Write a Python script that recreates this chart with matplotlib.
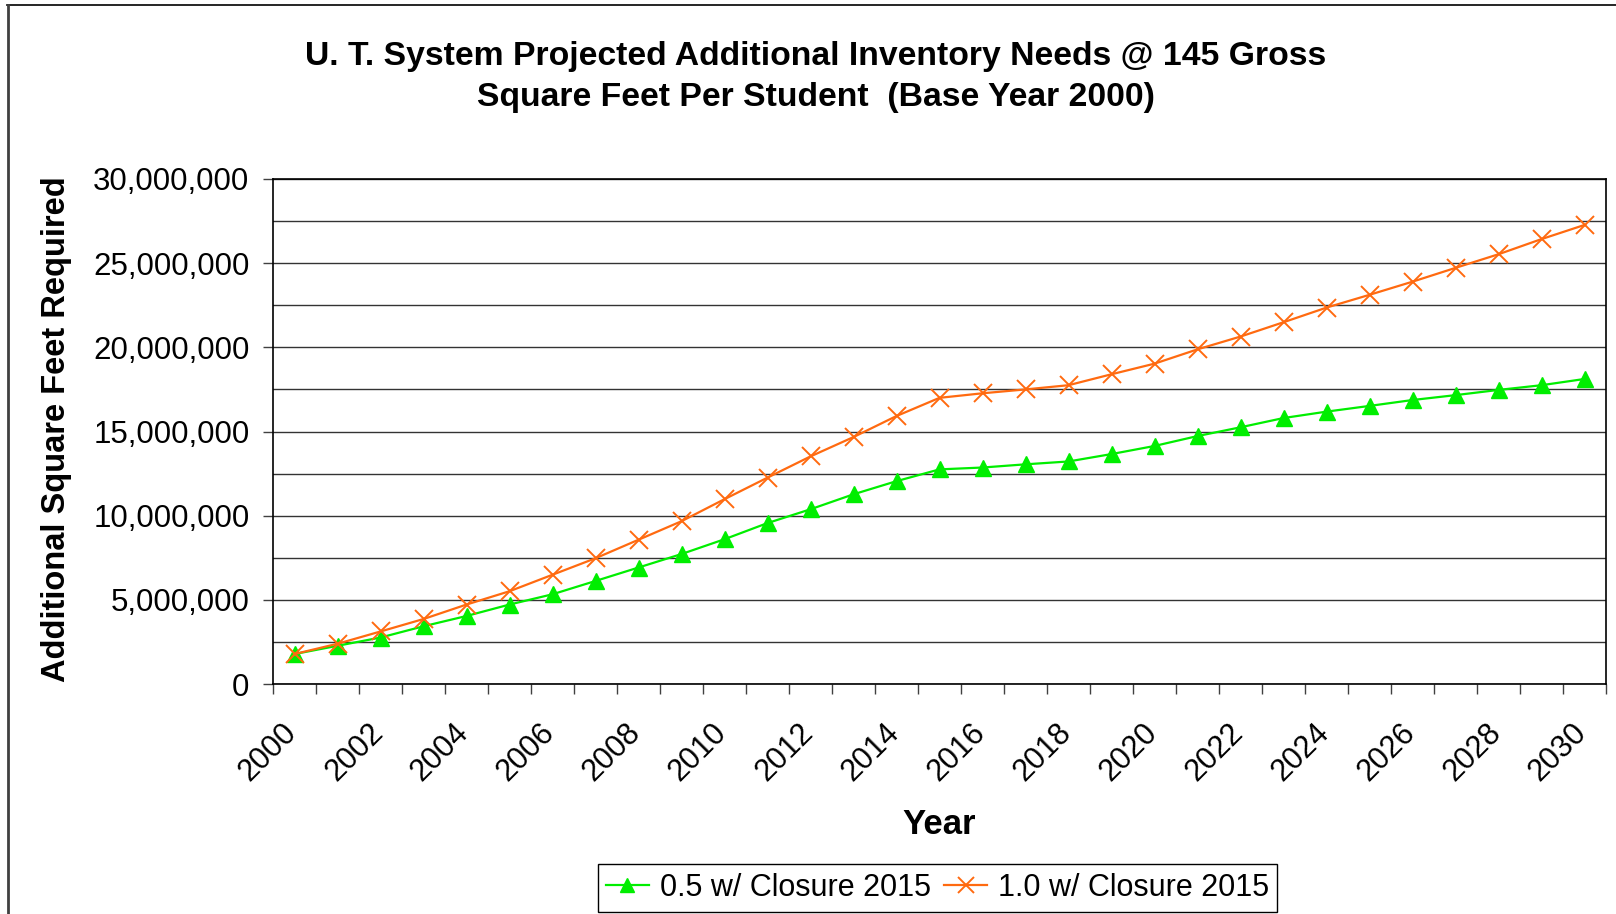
import numpy as np
import matplotlib.pyplot as plt
from matplotlib.ticker import MultipleLocator, FuncFormatter, FixedLocator
from matplotlib.lines import Line2D
from matplotlib.transforms import ScaledTranslation

plt.rcParams['font.family'] = ['Liberation Sans', 'DejaVu Sans']

years = list(range(2000, 2031))

half_closure = [1.78, 2.27, 2.76, 3.43, 4.04, 4.72, 5.33, 6.12, 6.92, 7.72,
                8.60, 9.56, 10.38, 11.27, 12.05, 12.75, 12.86, 13.05, 13.22, 13.66,
                14.14, 14.73, 15.25, 15.80, 16.18, 16.52, 16.87, 17.16, 17.47, 17.75,
                18.12]
full_closure = [1.78, 2.39, 3.12, 3.86, 4.72, 5.51, 6.49, 7.47, 8.57, 9.67,
                10.98, 12.26, 13.52, 14.67, 15.92, 17.00, 17.27, 17.50, 17.75, 18.40,
                19.03, 19.88, 20.64, 21.49, 22.36, 23.12, 23.90, 24.72, 25.53, 26.43,
                27.27]

half_closure = np.array(half_closure) * 1e6
full_closure = np.array(full_closure) * 1e6

x = np.arange(len(years))

fig = plt.figure(figsize=(16.16, 9.14), dpi=100)
ax = fig.add_axes([273/1616, 1 - 684/914, 1333/1616, 505/914])

ax.plot(x, half_closure, color='#00EE00', lw=1.6, marker='^', ms=11,
        mec='#00EE00', label='0.5 w/ Closure 2015', zorder=3)
ax.plot(x, full_closure, color='#FF6A10', lw=1.6, marker='x', ms=13, mew=1.4,
        label='1.0 w/ Closure 2015', zorder=4)

ax.set_xlim(-0.5, len(years) - 0.5)
ax.set_ylim(0, 30e6)

# y axis
ax.yaxis.set_major_locator(MultipleLocator(5e6))
ax.yaxis.set_minor_locator(MultipleLocator(2.5e6))
ax.yaxis.set_major_formatter(FuncFormatter(lambda v, p: '{:,.0f}'.format(v)))
ax.tick_params(axis='y', which='major', direction='out', length=7, width=1,
               labelsize=22.5, pad=10, color='#404040')
ax.tick_params(axis='y', which='minor', length=0)
ax.grid(axis='y', which='both', color='#333333', lw=1)

# x axis: ticks at category boundaries, labels every 2 years
ax.xaxis.set_major_locator(FixedLocator(x[::2]))
ax.set_xticklabels([str(y) for y in years[::2]])
ax.xaxis.set_minor_locator(FixedLocator(np.arange(len(years) + 1) - 0.5))
ax.tick_params(axis='x', which='major', length=0, labelsize=22, pad=32)
ax.tick_params(axis='x', which='minor', direction='out', length=7, width=1,
               color='#404040')
shift = ScaledTranslation(-2/100, 0, fig.dpi_scale_trans)
for lbl in ax.get_xticklabels():
    lbl.set_rotation(45)
    lbl.set_rotation_mode('anchor')
    lbl.set_ha('right')
    lbl.set_va('center')
    lbl.set_transform(lbl.get_transform() + shift)

for s in ax.spines.values():
    s.set_color('black')
    s.set_linewidth(1.2)

ax.set_xlabel('Year', fontsize=25, fontweight='bold')
ax.xaxis.set_label_coords(0.5, -0.245)
ax.set_ylabel('Additional Square Feet Required', fontsize=23.5, fontweight='bold')
ax.yaxis.set_label_coords(-0.151, 0.505)

fig.text(0.505, 1 - 77/914,
         'U. T. System Projected Additional Inventory Needs @ 145 Gross\n'
         'Square Feet Per Student  (Base Year 2000)',
         ha='center', va='center', fontsize=24.3, fontweight='bold',
         linespacing=1.4)

fig.legend(loc='center', bbox_to_anchor=(937.5/1616, 1 - 888/914), ncol=2,
           fontsize=22, frameon=True, fancybox=False, edgecolor='black',
           framealpha=1, handlelength=1.4, handletextpad=0.35,
           columnspacing=0.45, borderpad=0.28, borderaxespad=0,
           markerscale=0.9)

# outer chart border (top and left visible)
fig.add_artist(Line2D([7/1616, 1], [1 - 5/914, 1 - 5/914], color='black', lw=1.2))
fig.add_artist(Line2D([8/1616, 8/1616], [0, 1 - 5/914], color='#404040', lw=2))

fig.savefig('out.png', dpi=100)
